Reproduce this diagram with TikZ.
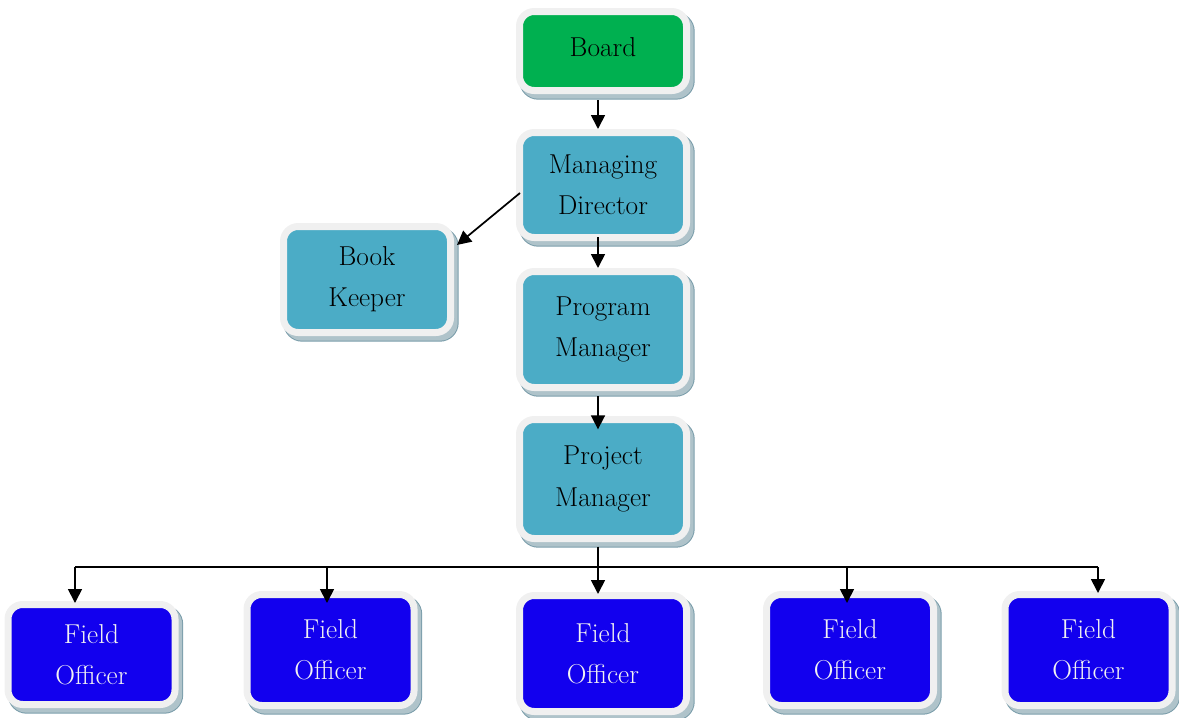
\documentclass[tikz,border=0pt]{standalone}
\usetikzlibrary{arrows.meta,shadows}
\definecolor{rimc}{HTML}{F0F0F0}
\definecolor{shfill}{HTML}{AFC3CA}
\definecolor{shedge}{HTML}{7A9DAA}
\definecolor{boardc}{HTML}{00B050}
\definecolor{tealc}{HTML}{4BACC6}
\definecolor{bluec}{HTML}{1200EE}
\definecolor{fotext}{HTML}{F2F2F2}
\tikzset{
  orgbox/.style={draw=rimc, line width=5.25pt, rounded corners=11pt,
    inner sep=0pt, align=center, minimum width=125.25pt,
    font=\fontsize{20.5}{31}\selectfont,
    general shadow={shadow xshift=3pt, shadow yshift=-3.75pt, draw=shedge, fill=shedge, line width=6.25pt},
    general shadow={shadow xshift=3pt, shadow yshift=-3.75pt, draw=shfill, fill=shfill, line width=4.75pt}},
  boardbox/.style={orgbox, fill=boardc, text=black},
  tealbox/.style={orgbox, fill=tealc, text=black},
  fobox/.style={orgbox, fill=bluec, text=fotext},
  arr/.style={-{Triangle[width=10.5pt,length=10.5pt]}, line width=1.3pt, black},
  busline/.style={line width=1.3pt, black}
}
\begin{document}
\begin{tikzpicture}[x=0.75pt,y=-0.75pt]
\useasboundingbox (0,0) rectangle (1179,718);
% boxes (sizes: colored area + 7px rim)
\node[boardbox, minimum height=59.25pt] (Board) at (603,51) {\raisebox{6pt}{Board}};
\node[tealbox, minimum height=78.75pt] (MD) at (603,185) {Managing\\Director};
\node[tealbox, minimum height=79.5pt] (BK) at (367,279.5) {Book\\Keeper};
\node[tealbox, minimum height=87pt] (PM) at (603,329.5) {Program\\Manager};
\node[tealbox, minimum height=89.25pt] (PJ) at (603,479) {Project\\Manager};
\node[fobox, minimum height=75pt] (FO1) at (91.5,654.5) {Field\\Officer};
\node[fobox, minimum height=83.25pt] (FO2) at (330.5,650) {Field\\Officer};
\node[fobox, minimum height=87pt] (FO3) at (603,653.5) {Field\\Officer};
\node[fobox, minimum height=83.25pt] (FO4) at (850,650) {Field\\Officer};
\node[fobox, minimum height=83.25pt] (FO5) at (1088.5,650) {Field\\Officer};
% connectors
\draw[arr] ([xshift=-3.75pt,yshift=-4.5pt]Board.south) -- ([xshift=-3.75pt]MD.north);
\draw[arr] ([xshift=3pt,yshift=-6pt]MD.west) -- ([xshift=2.25pt,yshift=25.9pt]BK.east);
\draw[arr] ([xshift=-3.75pt,yshift=3pt]MD.south) -- ([xshift=-3.75pt]PM.north);
\draw[arr] ([xshift=-3.75pt,yshift=-4pt]PM.south) -- ([xshift=-3.75pt,yshift=-10pt]PJ.north);
\coordinate (bus) at (598,567);
\coordinate (t1) at ([xshift=-12.375pt,yshift=-1.5pt]FO1.north);
\coordinate (t2) at ([xshift=-2.625pt,yshift=-9pt]FO2.north);
\coordinate (t3) at ([xshift=-3.75pt,yshift=-1.5pt]FO3.north);
\coordinate (t4) at ([xshift=-2.25pt,yshift=-9pt]FO4.north);
\coordinate (t5) at ([xshift=7.125pt,yshift=-1.5pt]FO5.north);
\draw[arr] ([xshift=-3.75pt,yshift=-3.5pt]PJ.south) -- (t3);
\draw[busline] (bus -| t1) -- (bus -| t5);
\draw[arr] (bus -| t1) -- (t1);
\draw[arr] (bus -| t2) -- (t2);
\draw[arr] (bus -| t4) -- (t4);
\draw[arr] (bus -| t5) -- (t5);
\end{tikzpicture}
\end{document}
